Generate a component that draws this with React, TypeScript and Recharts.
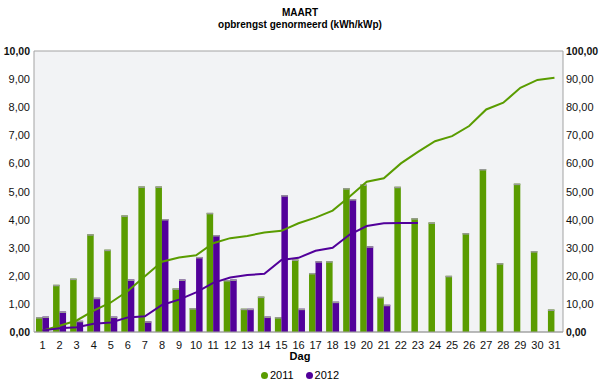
import React from 'react';
import { ComposedChart, Bar, Line, XAxis, YAxis, CartesianGrid } from 'recharts';

const days = Array.from({ length: 31 }, (_, i) => String(i + 1));

const daily2011 = [0.53, 1.68, 1.9, 3.48, 2.93, 4.15, 5.18, 5.18, 1.55, 0.85, 4.24, 1.85, 0.83, 1.26, 0.53, 2.58, 2.1, 2.52, 5.12, 5.25, 1.25, 5.17, 4.05, 3.9, 2.0, 3.52, 5.8, 2.45, 5.28, 2.88, 0.8];
const daily2012 = [0.55, 0.73, 0.4, 1.22, 0.55, 1.87, 0.38, 4.02, 1.87, 2.67, 3.45, 1.87, 0.83, 0.55, 4.87, 0.83, 2.52, 1.08, 4.73, 3.05, 0.97];
const total2011 = [0.5, 2.2, 4.1, 7.6, 10.5, 14.6, 19.8, 25.0, 26.5, 27.3, 31.6, 33.4, 34.2, 35.4, 36.0, 38.7, 40.7, 43.2, 48.2, 53.5, 54.7, 60.0, 64.1, 67.9, 69.7, 73.3, 79.2, 81.6, 86.9, 89.7, 90.5];
const total2012 = [0.5, 1.3, 1.7, 2.9, 3.4, 5.2, 5.6, 9.6, 11.5, 14.1, 17.5, 19.4, 20.3, 20.7, 25.6, 26.4, 28.9, 30.0, 34.7, 37.7, 38.7, 38.8, 38.8];

const leftTicks = [0, 1, 2, 3, 4, 5, 6, 7, 8, 9, 10];
const rightTicks = [0, 10, 20, 30, 40, 50, 60, 70, 80, 90, 100];

const GREEN = '#5a9c00';
const PURPLE = '#52009a';
const FONT = '"Liberation Sans", Arial, sans-serif';

const data = days.map((d, i) => ({
  day: d,
  d2011: daily2011[i],
  d2012: daily2012[i] ?? null,
  t2011: total2011[i],
  t2012: total2012[i] ?? null,
}));

const fmt = (v: number) => v.toFixed(2).replace('.', ',');

const BarShape = (props: any) => {
  const { x, y, width, height, fill } = props;
  if (!height || height <= 0) return null;
  return (
    <g>
      <rect x={x} y={y} width={width} height={height} fill={fill} />
      <rect x={x} y={y} width={width} height={1.5} fill="#9a9a9a" />
    </g>
  );
};

const makeTick = (anchor: 'start' | 'end', max: number) => (props: any) => {
  const { x, y, payload } = props;
  const edge = payload.value === 0 || payload.value === max;
  return (
    <text x={x} y={y} dy={4} textAnchor={anchor} fontSize={edge ? 10.5 : 11} fontFamily={FONT} fontWeight={edge ? 'bold' : 'normal'} fill="#111">
      {fmt(payload.value)}
    </text>
  );
};

export default function App() {
  return (
    <div style={{ position: 'absolute', left: 0, top: 0, width: 600, height: 384, background: '#fff', fontFamily: FONT }}>
      <div style={{ position: 'absolute', top: 7, width: 600, textAlign: 'center', fontSize: 10, lineHeight: '12px', fontWeight: 'bold' }}>MAART</div>
      <div style={{ position: 'absolute', top: 19, width: 600, textAlign: 'center', fontSize: 10, lineHeight: '12px', fontWeight: 'bold' }}>opbrengst genormeerd (kWh/kWp)</div>
      <ComposedChart
        width={600}
        height={384}
        data={data}
        margin={{ top: 51, right: 0, left: 0, bottom: 27 }}
        barGap={0}
      >
        <CartesianGrid vertical={false} stroke="#a3a3a3" horizontalFill={['#f2f3f5', '#ffffff']} fillOpacity={1} />
        <XAxis dataKey="day" axisLine={{ stroke: '#a3a3a3' }} tickLine={false} interval={0} height={25}
          tick={{ fontSize: 11, fontFamily: FONT, fill: '#111' }} tickMargin={3} />
        <YAxis yAxisId="left" domain={[0, 10]} ticks={leftTicks} width={34} axisLine={{ stroke: '#a3a3a3' }} tickLine={false}
          tickSize={0} tickMargin={4} tick={makeTick('end', 10)} />
        <YAxis yAxisId="right" orientation="right" domain={[0, 100]} ticks={rightTicks} width={37} axisLine={{ stroke: '#a3a3a3' }} tickLine={false}
          tickSize={0} tickMargin={3} tick={makeTick('start', 100)} />
        <Bar yAxisId="left" dataKey="d2011" fill={GREEN} barSize={6.5} shape={BarShape} isAnimationActive={false} />
        <Bar yAxisId="left" dataKey="d2012" fill={PURPLE} barSize={6.5} shape={BarShape} isAnimationActive={false} />
        <Line yAxisId="right" dataKey="t2011" stroke={GREEN} strokeWidth={2} dot={false} type="linear" isAnimationActive={false} />
        <Line yAxisId="right" dataKey="t2012" stroke={PURPLE} strokeWidth={2} dot={false} type="linear" isAnimationActive={false} connectNulls={false} />
      </ComposedChart>
      <div style={{ position: 'absolute', top: 351, width: 600, textAlign: 'center', fontSize: 11, lineHeight: '11px', fontWeight: 'bold' }}>Dag</div>
      <div style={{ position: 'absolute', top: 369, width: 600, display: 'flex', justifyContent: 'center', gap: 12, fontSize: 11, lineHeight: '13px' }}>
        <span><span style={{ display: 'inline-block', width: 7, height: 7, borderRadius: 4, background: GREEN, marginRight: 2 }} />2011</span>
        <span><span style={{ display: 'inline-block', width: 7, height: 7, borderRadius: 4, background: PURPLE, marginRight: 2 }} />2012</span>
      </div>
    </div>
  );
}
